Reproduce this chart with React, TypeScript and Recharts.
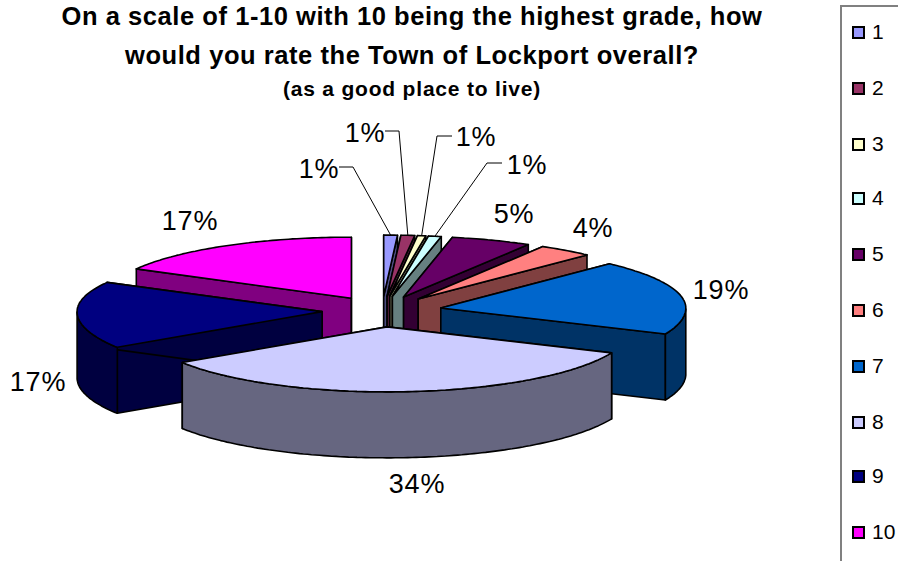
import React from 'react';
import { PieChart, Pie, Legend } from 'recharts';

const categories = ['1', '2', '3', '4', '5', '6', '7', '8', '9', '10'];
const shares = [0.9, 0.9, 0.55, 0.85, 5.3, 3.6, 19.45, 34.2, 17.2, 17.05];
const topColors = ['#9999FF', '#993366', '#FFFFCC', '#CCFFFF', '#660066', '#FF8080', '#0066CC', '#CCCCFF', '#000080', '#FF00FF'];
const sideColors = ['#4D4D80', '#4D1A33', '#808066', '#668080', '#330033', '#804040', '#003366', '#666680', '#000040', '#800080'];
const titleLines = [
  'On a scale of 1-10 with 10 being the highest grade, how',
  'would you rate the Town of Lockport overall?',
];
const subtitle = '(as a good place to live)';

// back to front, the slices overlap each other when exploded
const paintOrder = ['1', '2', '3', '4', '5', '6', '10', '7', '9', '8'];

// label layout: text centre, and the elbow of the leader line for the small slices
const labelCentres = [
  [319, 169], [365, 133], [476, 137], [527, 165], [514, 214],
  [593, 228], [721, 290], [417, 484], [38, 382], [190, 221],
];
const leaderElbows = [
  [[339, 167], [353, 167]],
  [[385, 131], [399, 131]],
  [[452, 136], [437, 136]],
  [[502, 163], [487, 163]],
];
const legendRows = [0, 56, 112, 166, 222, 278, 334, 390, 444, 500];

const CX = 382;
const CY = 311;
const RADIUS = 245;
const EXPLODE = 60;
const DEPTH = 66;
const TILT_BACK = 61 / 245;
const TILT_FRONT = 65 / 245;

const pieData = categories.map((name, i) => ({ name, value: shares[i], fill: topColors[i], side: sideColors[i] }));

const project = (angle: number, r: number) => {
  const rad = (angle * Math.PI) / 180;
  const tilt = Math.sin(rad) > 0 ? TILT_BACK : TILT_FRONT;
  return [r * Math.cos(rad), -r * tilt * Math.sin(rad)];
};

const toPath = (pts: number[][]) => 'M' + pts.map((p) => `${p[0].toFixed(1)},${p[1].toFixed(1)}`).join('L') + 'Z';

const Slice3D = (props: any) => {
  const { startAngle, endAngle, cx, cy, outerRadius, fill } = props;
  const side = props.side ?? props.payload?.side;
  const mid = (startAngle + endAngle) / 2;
  const off = project(mid, EXPLODE);
  const ax = cx + off[0];
  const ay = cy + off[1];
  const at = (angle: number) => {
    const p = project(angle, outerRadius);
    return [ax + p[0], ay + p[1]];
  };
  const down = (p: number[]) => [p[0], p[1] + DEPTH];

  const lo = Math.min(startAngle, endAngle);
  const hi = Math.max(startAngle, endAngle);
  const arc: number[][] = [];
  const steps = Math.max(2, Math.ceil(hi - lo));
  for (let i = 0; i <= steps; i++) arc.push(at(lo + ((hi - lo) * i) / steps));

  // outer wall only where the rim faces the viewer
  const front: number[][] = [];
  for (let i = 0; i <= steps; i++) {
    const a = lo + ((hi - lo) * i) / steps;
    if (Math.sin((a * Math.PI) / 180) <= 0) front.push(at(a));
  }

  const apex = [ax, ay];
  const wall = (p: number[]) => toPath([apex, p, down(p), down(apex)]);
  const common = { stroke: '#000', strokeWidth: 1.6, strokeLinejoin: 'round' as const };
  return (
    <g>
      <path d={wall(at(hi))} fill={side} {...common} />
      <path d={wall(at(lo))} fill={side} {...common} />
      {front.length > 1 && (
        <path d={toPath([...front, ...[...front].reverse().map(down)])} fill={side} {...common} />
      )}
      <path d={toPath([apex, ...arc])} fill={fill} {...common} />
    </g>
  );
};

const SliceLabel = (props: any) => {
  const { index, percent, midAngle, cx, cy, outerRadius } = props;
  const [tx, ty] = labelCentres[index];
  const elbow = leaderElbows[index];
  const off = project(midAngle, EXPLODE);
  const rim = project(midAngle, outerRadius);
  const end = [cx + off[0] + rim[0], cy + off[1] + rim[1]];
  return (
    <g>
      {elbow && (
        <polyline
          points={[...elbow, end].map((p) => p.join(',')).join(' ')}
          fill="none"
          stroke="#000"
          strokeWidth={1}
        />
      )}
      <text x={tx} y={ty} textAnchor="middle" dominantBaseline="central" fontSize={27} letterSpacing={0.8} fill="#000" fontFamily="Liberation Sans">
        {Math.round(percent * 100)}%
      </text>
    </g>
  );
};

const LegendBox = () => (
  <div style={{ position: 'relative', width: 70, height: 570, borderLeft: '2px solid #808080', borderTop: '2px solid #808080', boxSizing: 'border-box' }}>
    {categories.map((name, i) => (
      <div key={name} style={{ position: 'absolute', left: 10, top: 15 + legendRows[i], display: 'flex', alignItems: 'center', height: 20 }}>
        <span style={{ display: 'inline-block', width: 9, height: 9, border: '2px solid #000', background: topColors[i], marginRight: 7 }} />
        <span style={{ fontFamily: 'Liberation Sans', fontSize: 21, color: '#000' }}>{name}</span>
      </div>
    ))}
  </div>
);

export default function App() {
  return (
    <div style={{ position: 'absolute', left: 0, top: 0, width: 898, height: 561, overflow: 'hidden', background: '#fff' }}>
      <PieChart width={898} height={561} margin={{ top: 0, right: 0, bottom: 0, left: 0 }}>
        <Legend layout="vertical" align="right" verticalAlign="top" content={<LegendBox />} wrapperStyle={{ left: 840, top: 5, width: 70, height: 570 }} />
        {paintOrder.map((name, layer) => (
          <Pie
            key={name}
            data={pieData}
            dataKey="value"
            nameKey="name"
            cx={CX}
            cy={CY}
            outerRadius={RADIUS}
            startAngle={90}
            endAngle={-270}
            isAnimationActive={false}
            legendType="none"
            stroke="none"
            shape={(p: any) => (p.name === name ? <Slice3D {...p} /> : <g />)}
            label={layer === paintOrder.length - 1 ? <SliceLabel /> : false}
            labelLine={false}
          />
        ))}
      </PieChart>
      <div style={{ position: 'absolute', left: 0, top: 0, width: 824, textAlign: 'center', fontFamily: 'Liberation Sans', fontWeight: 'bold', color: '#000' }}>
        {titleLines.map((line, i) => (
          <div key={line} style={{ position: 'absolute', left: 0, width: 824, top: i === 0 ? 2 : 41, fontSize: 25.5, letterSpacing: 0.56, lineHeight: '28px', whiteSpace: 'nowrap' }}>{line}</div>
        ))}
        <div style={{ position: 'absolute', left: 0, width: 824, top: 77, fontSize: 21, letterSpacing: 0.8, lineHeight: '24px', whiteSpace: 'nowrap' }}>{subtitle}</div>
      </div>
    </div>
  );
}
